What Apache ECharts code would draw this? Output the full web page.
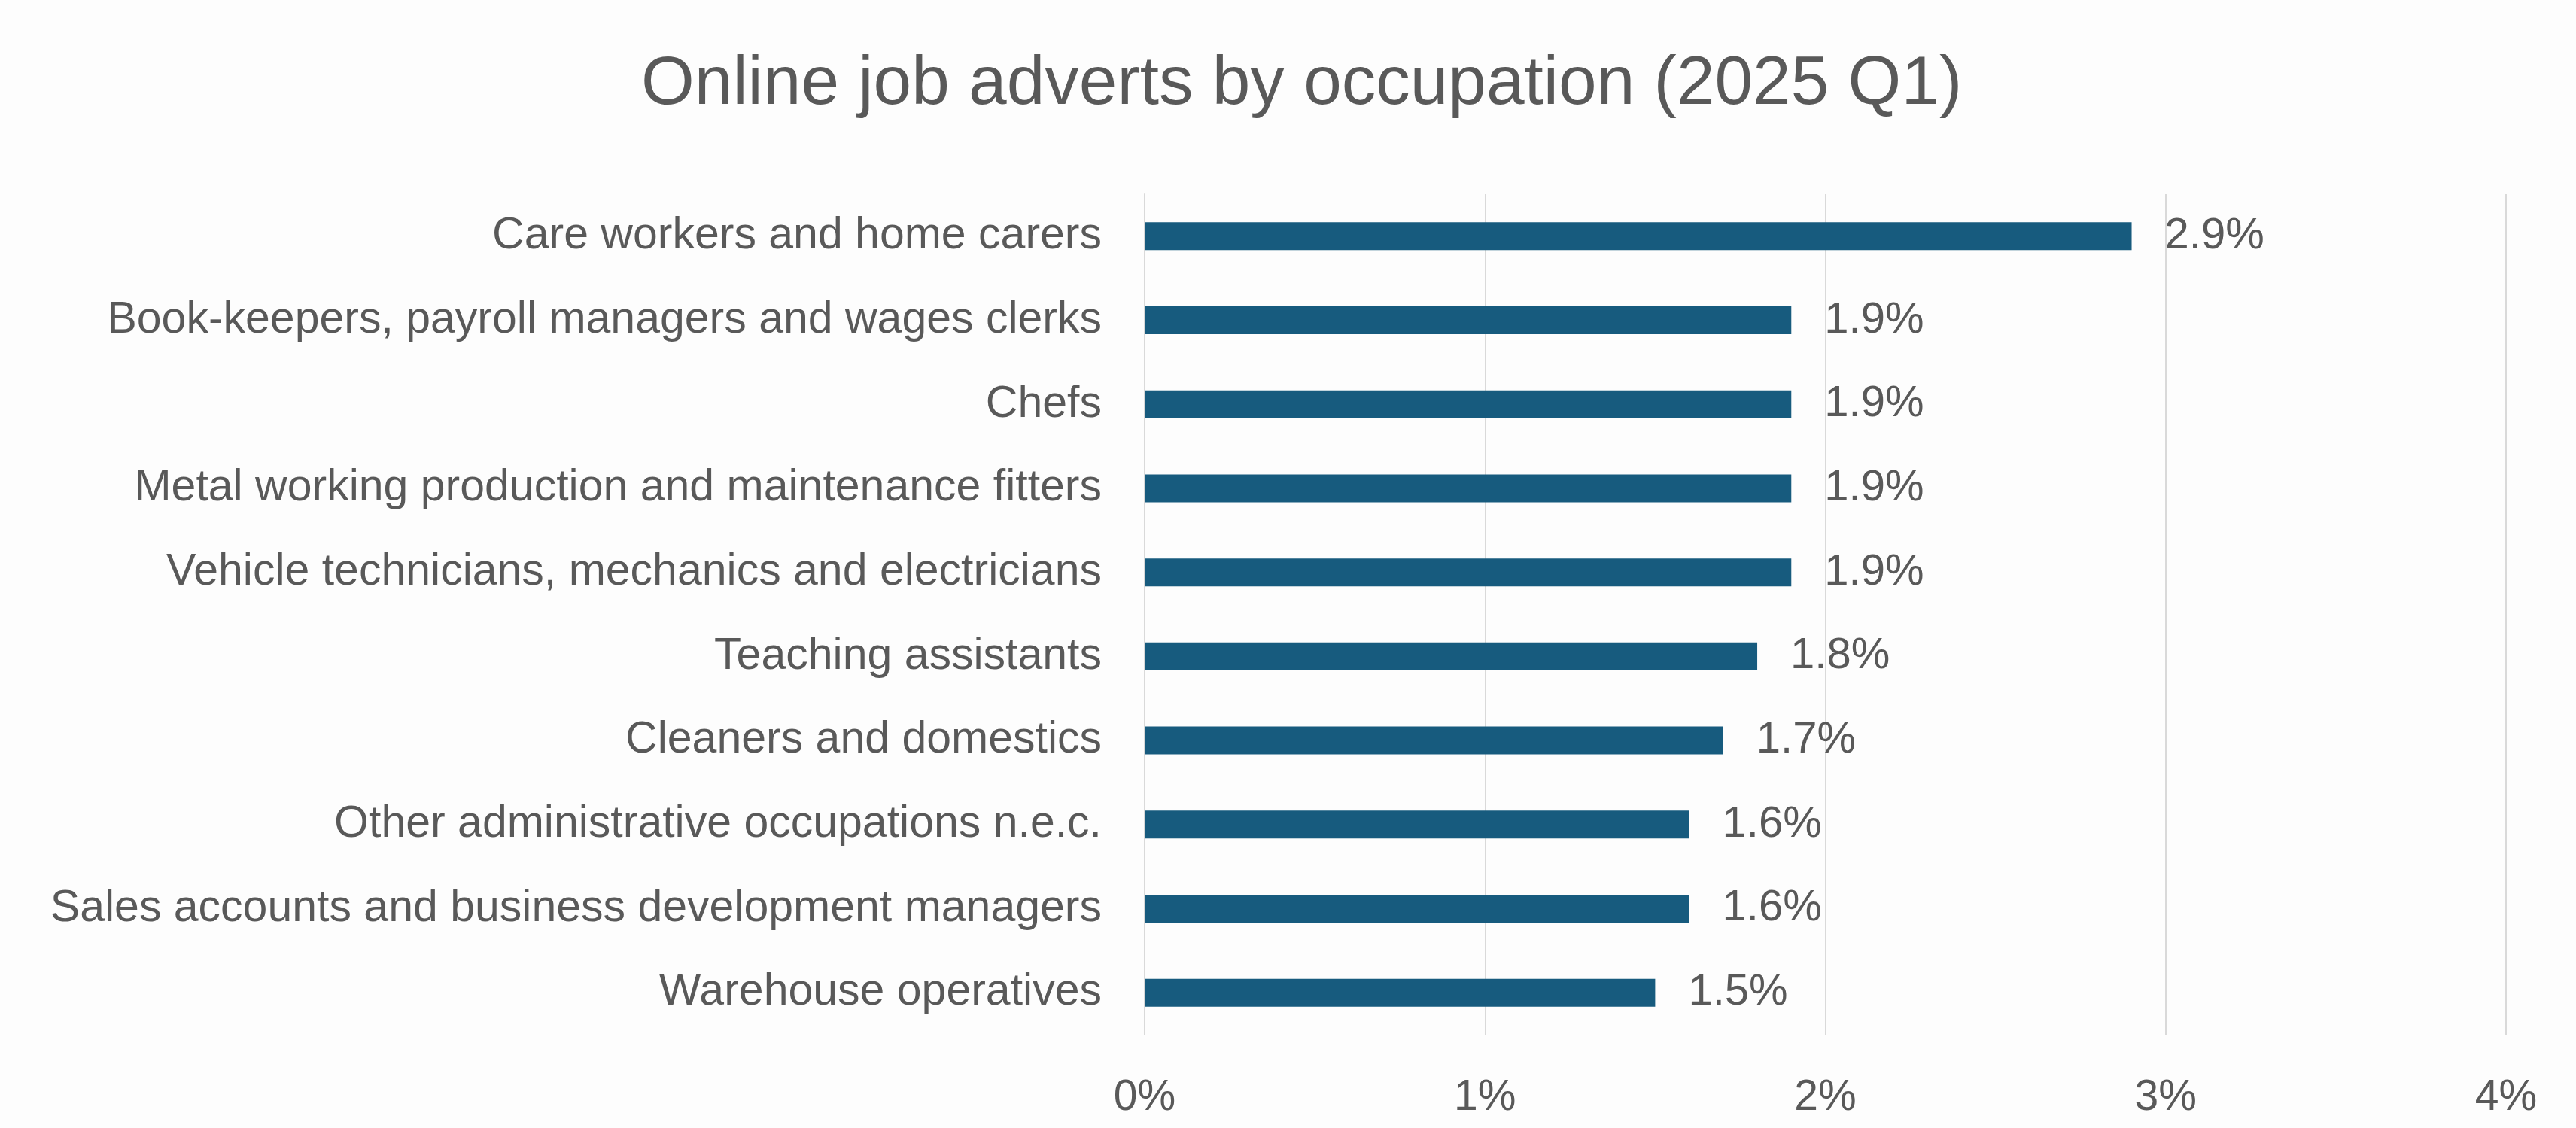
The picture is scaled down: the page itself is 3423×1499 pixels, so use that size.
<!DOCTYPE html>
<html>
<head>
<meta charset="utf-8">
<title>Online job adverts by occupation (2025 Q1)</title>
<script src="https://cdn.jsdelivr.net/npm/echarts@6/dist/echarts.min.js"></script>
<style>
  html, body { margin: 0; padding: 0; background: #fdfdfd; }
  #chart { width: 3423px; height: 1499px; }
</style>
</head>
<body>
<div id="chart"></div>
<script>
// Occupations, top to bottom
const occupations = [
  'Care workers and home carers',
  'Book-keepers, payroll managers and wages clerks',
  'Chefs',
  'Metal working production and maintenance fitters',
  'Vehicle technicians, mechanics and electricians',
  'Teaching assistants',
  'Cleaners and domestics',
  'Other administrative occupations n.e.c.',
  'Sales accounts and business development managers',
  'Warehouse operatives'
];

// Share of online job adverts, percent
const shares = [2.9, 1.9, 1.9, 1.9, 1.9, 1.8, 1.7, 1.6, 1.6, 1.5];

// Value axis ticks, percent
const axisTicks = [0, 1, 2, 3, 4];

const TEXT = '#595959';
const FONT = '"Liberation Sans", Arial, sans-serif';

const chart = echarts.init(document.getElementById('chart'), null, { renderer: 'canvas' });

chart.setOption({
  backgroundColor: '#fdfdfd',
  animation: false,
  title: {
    text: 'Online job adverts by occupation (2025 Q1)',
    left: 847,
    top: 62,
    textStyle: { fontFamily: FONT, fontSize: 91, fontWeight: 'normal', color: TEXT }
  },
  grid: { left: 1521, right: 93, top: 258, bottom: 124, containLabel: false },
  xAxis: {
    type: 'value',
    min: axisTicks[0],
    max: axisTicks[axisTicks.length - 1],
    interval: 1,
    axisLine: { show: false },
    axisTick: { show: false },
    splitLine: { show: true, lineStyle: { color: '#d9d9d9', width: 2 } },
    axisLabel: {
      formatter: v => v + '%',
      margin: 56,
      fontFamily: FONT,
      fontSize: 57,
      color: TEXT
    }
  },
  yAxis: {
    type: 'category',
    inverse: true,
    data: occupations,
    axisLine: { show: true, lineStyle: { color: '#d9d9d9', width: 2 } },
    axisTick: { show: false },
    axisLabel: {
      margin: 57,
      fontFamily: FONT,
      fontSize: 59,
      color: TEXT
    }
  },
  series: [{
    type: 'bar',
    data: shares,
    barWidth: 37,
    itemStyle: { color: '#175b7e' },
    label: {
      show: true,
      position: 'right',
      distance: 44,
      formatter: p => p.value.toFixed(1) + '%',
      fontFamily: FONT,
      fontSize: 58,
      color: TEXT
    }
  }]
});
</script>
</body>
</html>
